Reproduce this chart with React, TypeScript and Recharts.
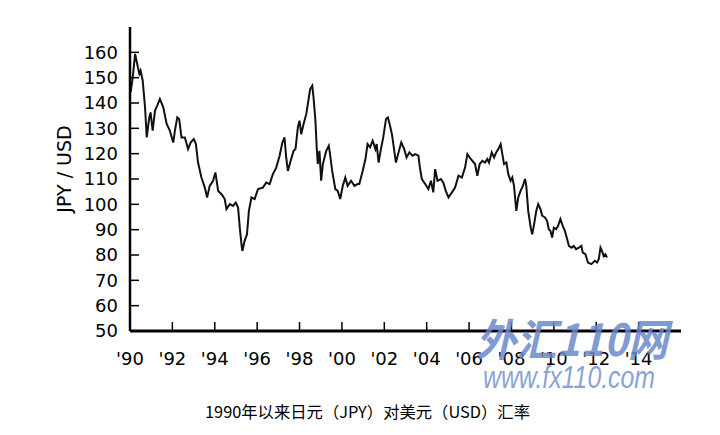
import React from 'react';
import { LineChart, Line, XAxis, YAxis } from 'recharts';

// decimal year of each reading
const years: number[] = [
  1990.03, 1990.13, 1990.24, 1990.34, 1990.44, 1990.5, 1990.6, 1990.71, 1990.79, 1990.91,
  1990.97, 1991.07, 1991.18, 1991.28, 1991.41, 1991.57, 1991.73, 1991.88, 1992.04, 1992.12,
  1992.23, 1992.32, 1992.43, 1992.59, 1992.74, 1992.86, 1993.01, 1993.11, 1993.21, 1993.37,
  1993.53, 1993.64, 1993.76, 1993.92, 1994.03, 1994.16, 1994.32, 1994.47, 1994.55, 1994.71,
  1994.86, 1994.99, 1995.1, 1995.18, 1995.26, 1995.3, 1995.41, 1995.52, 1995.61, 1995.73,
  1995.88, 1996.04, 1996.27, 1996.43, 1996.59, 1996.74, 1996.9, 1997.06, 1997.19, 1997.29,
  1997.37, 1997.45, 1997.58, 1997.72, 1997.81, 1997.92, 1998.0, 1998.08, 1998.19, 1998.32,
  1998.44, 1998.5, 1998.6, 1998.66, 1998.75, 1998.81, 1998.86, 1998.94, 1999.02, 1999.1,
  1999.26, 1999.38, 1999.44, 1999.54, 1999.69, 1999.8, 1999.92, 2000.04, 2000.16, 2000.27,
  2000.43, 2000.59, 2000.74, 2000.82, 2000.98, 2001.11, 2001.21, 2001.33, 2001.45, 2001.58,
  2001.64, 2001.73, 2001.84, 2001.95, 2002.08, 2002.17, 2002.27, 2002.36, 2002.47, 2002.55,
  2002.67, 2002.8, 2002.94, 2003.05, 2003.18, 2003.33, 2003.46, 2003.61, 2003.68, 2003.77,
  2003.93, 2004.08, 2004.2, 2004.31, 2004.4, 2004.51, 2004.67, 2004.78, 2004.9, 2005.03,
  2005.19, 2005.34, 2005.5, 2005.66, 2005.81, 2005.92, 2006.08, 2006.28, 2006.39, 2006.5,
  2006.63, 2006.75, 2006.86, 2006.94, 2007.07, 2007.18, 2007.28, 2007.38, 2007.49, 2007.57,
  2007.65, 2007.76, 2007.85, 2007.96, 2008.04, 2008.12, 2008.23, 2008.32, 2008.43, 2008.54,
  2008.64, 2008.7, 2008.79, 2008.86, 2008.92, 2008.98, 2009.07, 2009.17, 2009.26, 2009.37,
  2009.45, 2009.58, 2009.68, 2009.76, 2009.84, 2009.92, 2010.0, 2010.11, 2010.2, 2010.31,
  2010.42, 2010.52, 2010.63, 2010.71, 2010.83, 2010.94, 2011.05, 2011.18, 2011.3, 2011.36,
  2011.49, 2011.61, 2011.77, 2011.93, 2012.04, 2012.12, 2012.2, 2012.27, 2012.35, 2012.43,
  2012.51,
];

// yen per dollar
const rates: number[] = [
  144.2, 150.1, 159.4, 155.4, 151.5, 152.8, 148.8, 138.3, 126.4, 134.3,
  136.3, 129.1, 137, 138.9, 141.6, 138.3, 131.7, 129.1, 124.4, 129.1,
  134.3, 133.7, 126.4, 126.4, 121.8, 124.4, 125.8, 123.8, 116.5, 110.6,
  106.6, 102.7, 107.3, 109.3, 112.6, 105.3, 104, 102.1, 98.1, 100.1,
  99.4, 100.7, 98.7, 90.8, 84.3, 81.6, 85.6, 88.2, 97.4, 102.7,
  102.1, 106, 106.6, 108.6, 108, 111.9, 114.5, 119.2, 124.4, 126.4,
  118.5, 113.2, 117.2, 121.1, 121.8, 130.4, 133, 127.7, 131.7, 135.7,
  142.2, 145.5, 146.8, 142.2, 133, 122.5, 115.9, 121.1, 109.3, 115.9,
  121.1, 123.1, 119.8, 113.2, 106, 105.3, 102.1, 107.3, 110.6, 107.3,
  109.3, 107.3, 108, 108, 113.2, 117.9, 123.8, 122.5, 125.1, 121.8,
  123.8, 116.5, 121.8, 126.4, 133.7, 134.3, 131, 127.7, 121.1, 116.5,
  120.5, 124.4, 121.8, 118.5, 120.5, 119.2, 119.8, 119.2, 114.5, 110,
  108, 106, 109.3, 104.7, 113.9, 109.3, 110, 108.6, 105.3, 102.7,
  104.7, 106.6, 111.3, 110.6, 114.5, 119.8, 117.9, 115.9, 111.3, 115.9,
  117.2, 116.5, 117.9, 116.5, 120.5, 118.5, 120.5, 121.8, 123.8, 119.8,
  115.9, 116.5, 111.9, 109.3, 110.6, 107.3, 97.4, 102.7, 105.3, 107.3,
  110, 107.3, 97.4, 93.5, 90.2, 88.2, 92.2, 97.4, 100.1, 98.1,
  95.5, 94.8, 93.5, 90.2, 89.5, 86.9, 90.8, 90.2, 91.5, 94.2,
  91.5, 89.5, 86.2, 83.6, 82.9, 83.6, 82.3, 82.9, 83.6, 81,
  80.3, 77, 76.4, 77.7, 77, 78.3, 82.9, 81.6, 79.6, 80.3,
  79,
];

const yearTicks = [1990, 1992, 1994, 1996, 1998, 2000, 2002, 2004, 2006, 2008, 2010, 2012, 2014];
const rateTicks = [50, 60, 70, 80, 90, 100, 110, 120, 130, 140, 150, 160];

const data = years.map((year, i) => ({ year, rate: rates[i] }));

const tickFont = '"DejaVu Sans", sans-serif';

const YTick = (props: any) => {
  const { x, y, payload } = props;
  return (
    <g>
      <line x1={x} y1={y} x2={x + 9} y2={y} stroke="#000" strokeWidth={1.5} />
      <text x={x - 12} y={y} dy="0.36em" textAnchor="end" fontSize={18} fontFamily={tickFont} fill="#000">
        {payload.value}
      </text>
    </g>
  );
};

const XTick = (props: any) => {
  const { x, y, payload } = props;
  const label = "'" + String(payload.value).slice(2);
  return (
    <g>
      <line x1={x} y1={y} x2={x} y2={y - 9} stroke="#000" strokeWidth={1.5} />
      <text x={x} y={y + 34} textAnchor="middle" fontSize={18} fontFamily={tickFont} fill="#000">
        {label}
      </text>
    </g>
  );
};

const App: React.FC = () => {
  return (
    <div style={{ position: 'absolute', left: 0, top: 0, width: 720, height: 435, background: '#fff' }}>
      <LineChart width={720} height={435} data={data} margin={{ top: 27, right: 39, bottom: 74, left: 0 }}>
        <XAxis
          dataKey="year"
          type="number"
          domain={[1990, 2016]}
          ticks={yearTicks}
          interval={0}
          tickSize={0}
          tickMargin={0}
          tickLine={false}
          tick={XTick}
          height={30}
          axisLine={{ stroke: '#000', strokeWidth: 3 }}
        />
        <YAxis
          type="number"
          domain={[50, 170]}
          ticks={rateTicks}
          interval={0}
          tickSize={0}
          tickMargin={0}
          tickLine={false}
          tick={YTick}
          width={130}
          axisLine={{ stroke: '#000', strokeWidth: 2.5 }}
        />
        <Line
          type="linear"
          dataKey="rate"
          stroke="#111"
          strokeWidth={2}
          dot={false}
          isAnimationActive={false}
        />
      </LineChart>
      <svg width={720} height={435} style={{ position: 'absolute', left: 0, top: 0, pointerEvents: 'none' }}>
        <text
          transform="translate(64,169) rotate(-90)"
          textAnchor="middle"
          dy="0.36em"
          fontSize={19}
          fontFamily={tickFont}
          fill="#000"
        >
          JPY / USD
        </text>
        <text
          x={476}
          y={356}
          textLength={192}
          lengthAdjust="spacingAndGlyphs"
          fontSize={44}
          fontWeight="bold"
          fontStyle="italic"
          fontFamily='"Noto Sans CJK SC", sans-serif'
          fill="#6a88cb"
          fillOpacity={0.85}
        >
          外汇110网
        </text>
        <text
          x={483}
          y={388}
          textLength={172}
          lengthAdjust="spacingAndGlyphs"
          fontSize={31}
          fontStyle="italic"
          fontFamily='"Liberation Sans", sans-serif'
          fill="#7c95cf"
          fillOpacity={0.9}
        >
          www.fx110.com
        </text>
        <text
          x={205}
          y={418}
          textLength={325}
          lengthAdjust="spacingAndGlyphs"
          fontSize={16}
          fontFamily='"Noto Sans CJK SC", sans-serif'
          fill="#000"
        >
          1990年以来日元（JPY）对美元（USD）汇率
        </text>
      </svg>
    </div>
  );
};

export default App;
